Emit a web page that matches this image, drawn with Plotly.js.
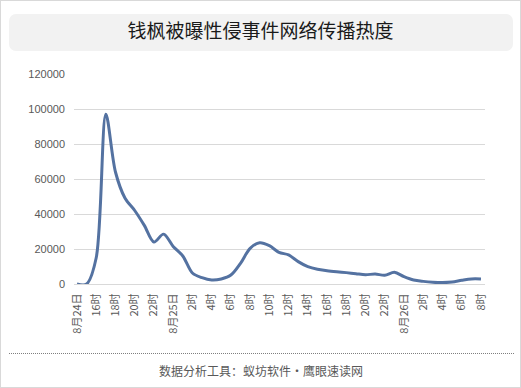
<!DOCTYPE html>
<html>
<head>
<meta charset="utf-8">
<script src="https://cdn.plot.ly/plotly-3.0.1.min.js"></script>
<style>
  html, body { margin: 0; padding: 0; background: #fff; }
  #frame { position: absolute; left: 0; top: 0; width: 521px; height: 388px; box-sizing: border-box; border: 1px solid #d9d9d9; background: #fff; }
  #titlebox { position: absolute; left: 8px; top: 13px; width: 504px; height: 37px; background: #f2f2f2; border-radius: 7px; }
  #dots { position: absolute; left: 8px; top: 352px; width: 505px; height: 0; border-top: 1px dotted #7f7f7f; }
  #chart { position: absolute; left: 0; top: 0; width: 521px; height: 388px; }
</style>
</head>
<body>
<div id="frame"><div id="titlebox"></div><div id="dots"></div></div>
<div id="chart"></div>
<script>
// Hourly points from 8月24日 14时 to 8月26日 8时
const hourIndex = [0,1,2,3,4,5,6,7,8,9,10,11,12,13,14,15,16,17,18,19,20,21,22,23,24,25,26,27,28,29,30,31,32,33,34,35,36,37,38,39,40,41,42];
const heat = [0,0,15000,97000,64000,49000,42000,33500,24000,28500,21500,16000,6300,3600,2300,2900,5100,11800,20400,23600,21900,18100,16600,12800,9900,8400,7600,7000,6500,5900,5300,5700,5000,6700,4200,2300,1500,1000,800,1100,2100,2900,2900];
const tickPositions = [0,2,4,6,8,10,12,14,16,18,20,22,24,26,28,30,32,34,36,38,40,42];
const tickLabels = ["8月24日","16时","18时","20时","22时","8月25日","2时","4时","6时","8时","10时","12时","14时","16时","18时","20时","22时","8月26日","2时","4时","6时","8时"];
const yTicks = [0,20000,40000,60000,80000,100000,120000];

const trace = {
  x: hourIndex,
  y: heat,
  type: 'scatter',
  mode: 'lines',
  line: { color: '#5472a1', width: 3, shape: 'spline', smoothing: 0.9 },
  hoverinfo: 'skip'
};

const layout = {
  width: 521,
  height: 388,
  margin: { l: 74, r: 36, t: 74, b: 104 },
  paper_bgcolor: 'rgba(0,0,0,0)',
  plot_bgcolor: 'rgba(0,0,0,0)',
  showlegend: false,
  font: { family: '"Noto Sans CJK SC", "Noto Sans", sans-serif', color: '#595959' },
  title: {
    text: '钱枫被曝性侵事件网络传播热度',
    font: { family: '"Noto Sans CJK SC", sans-serif', size: 19, color: '#1a1a1a' },
    x: 0.5, xanchor: 'center',
    y: 1 - 31 / 388, yanchor: 'middle', yref: 'container'
  },
  xaxis: {
    range: [-0.31, 42.42],
    tickmode: 'array',
    tickvals: tickPositions,
    ticktext: tickLabels,
    tickangle: -90,
    tickfont: { size: 11, color: '#595959', family: '"Noto Sans CJK SC", sans-serif' },
    showgrid: false,
    zeroline: false,
    showline: true,
    linecolor: '#d9d9d9',
    linewidth: 1,
    ticks: '',
    ticklabelstandoff: 4,
    fixedrange: true
  },
  yaxis: {
    range: [0, 120000],
    tickmode: 'array',
    tickvals: yTicks,
    ticktext: yTicks.map(String),
    tickfont: { size: 11, color: '#595959', family: '"Liberation Sans", "DejaVu Sans", sans-serif' },
    showgrid: true,
    gridcolor: '#d9d9d9',
    gridwidth: 1,
    zeroline: false,
    showline: false,
    ticks: '',
    ticklabelstandoff: 8,
    fixedrange: true
  },
  annotations: [{
    text: '数据分析工具：蚁坊软件・鹰眼速读网',
    xref: 'paper', yref: 'paper',
    x: (261 - 74) / 411, y: (284 - 370) / 210,
    xanchor: 'center', yanchor: 'middle',
    showarrow: false,
    font: { family: '"Noto Sans CJK SC", sans-serif', size: 12, color: '#595959' }
  }]
};

Plotly.newPlot('chart', [trace], layout, { displayModeBar: false, staticPlot: true });
</script>
</body>
</html>
